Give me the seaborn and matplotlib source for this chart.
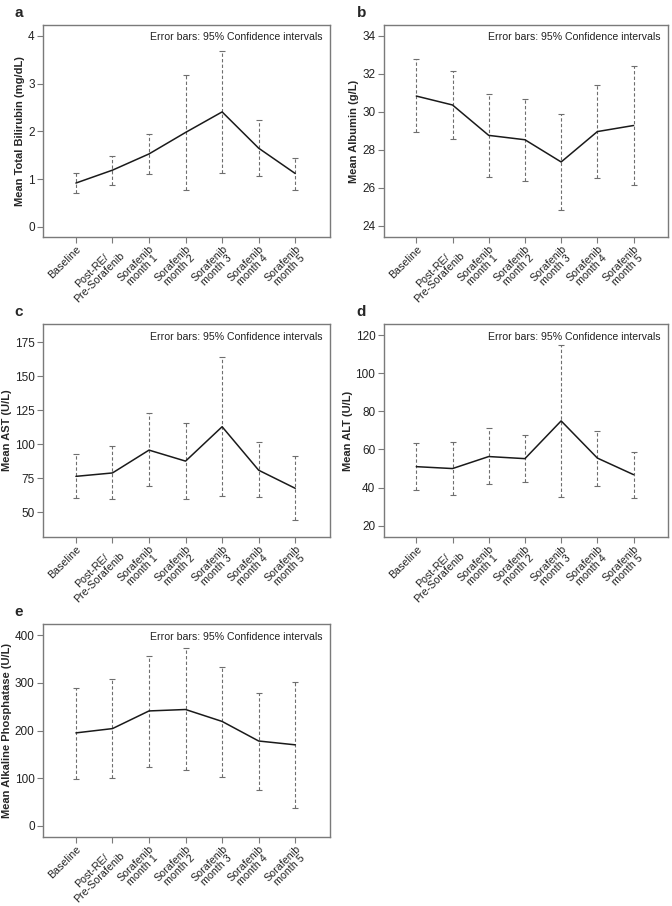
import numpy as np
import pandas as pd
import matplotlib
matplotlib.use('Agg')
import matplotlib.pyplot as plt
import seaborn as sns

# timepoints
timepoints = ['Baseline', 'Post-RE/\nPre-Sorafenib', 'Sorafenib\nmonth 1', 'Sorafenib\nmonth 2',
              'Sorafenib\nmonth 3', 'Sorafenib\nmonth 4', 'Sorafenib\nmonth 5']

# a - total bilirubin (mg/dL)
bili_mean = [0.92, 1.19, 1.53, 1.98, 2.41, 1.65, 1.12]
bili_lo = [0.72, 0.88, 1.11, 0.77, 1.13, 1.07, 0.77]
bili_hi = [1.13, 1.48, 1.95, 3.19, 3.69, 2.24, 1.45]

# b - albumin (g/L)
alb_mean = [30.82, 30.35, 28.75, 28.52, 27.35, 28.95, 29.27]
alb_lo = [28.92, 28.55, 26.58, 26.35, 24.80, 26.50, 26.12]
alb_hi = [32.75, 32.12, 30.92, 30.68, 29.85, 31.40, 32.40]

# c - AST (U/L)
ast_mean = [76.5, 79.0, 95.8, 87.7, 113.0, 81.0, 67.7]
ast_lo = [60.3, 59.7, 69.2, 59.8, 62.4, 61.0, 44.3]
ast_hi = [93.3, 99.1, 122.8, 115.5, 164.5, 101.5, 91.1]

# d - ALT (U/L)
alt_mean = [51.0, 50.0, 56.3, 55.2, 75.0, 55.5, 46.8]
alt_lo = [38.6, 36.3, 41.8, 42.7, 35.0, 40.8, 34.6]
alt_hi = [63.4, 64.0, 71.2, 67.6, 115.0, 69.8, 58.6]

# e - alkaline phosphatase (U/L)
alp_mean = [195, 204, 241, 244, 219, 178, 170]
alp_lo = [99, 100, 124, 117, 103, 76, 38]
alp_hi = [290, 307, 357, 372, 332, 279, 301]

panels = [
    ('a', 'Mean Total Bilirubin (mg/dL)', bili_mean, bili_lo, bili_hi, (-0.21, 4.23), [0, 1, 2, 3, 4]),
    ('b', 'Mean Albumin (g/L)', alb_mean, alb_lo, alb_hi, (23.4, 34.56), [24, 26, 28, 30, 32, 34]),
    ('c', 'Mean AST (U/L)', ast_mean, ast_lo, ast_hi, (31.9, 188.5), [50, 75, 100, 125, 150, 175]),
    ('d', 'Mean ALT (U/L)', alt_mean, alt_lo, alt_hi, (14.1, 125.8), [20, 40, 60, 80, 100, 120]),
    ('e', 'Mean Alkaline Phosphatase (U/L)', alp_mean, alp_lo, alp_hi, (-23, 423), [0, 100, 200, 300, 400]),
]

sns.set_style('ticks')
plt.rcParams['font.family'] = ['Liberation Sans', 'DejaVu Sans']

fig = plt.figure(figsize=(6.72, 9.06), dpi=100)

# axes boxes in figure fraction [left, bottom, width, height]
boxes = [
    [0.064, 0.7384, 0.427, 0.234],
    [0.571, 0.7384, 0.423, 0.234],
    [0.064, 0.4073, 0.427, 0.235],
    [0.571, 0.4073, 0.423, 0.235],
    [0.064, 0.0762, 0.427, 0.235],
]

grey = '#7a7a7a'
for (letter, ylab, mean, lo, hi, ylim, yticks), box in zip(panels, boxes):
    ax = fig.add_axes(box)
    df = pd.DataFrame({'x': np.arange(len(timepoints)), 'mean': mean, 'lo': lo, 'hi': hi})

    eb = ax.errorbar(df['x'], df['mean'],
                     yerr=[df['mean'] - df['lo'], df['hi'] - df['mean']],
                     fmt='none', ecolor='#6e6e6e', elinewidth=0.8, capsize=2.2, capthick=0.8)
    for c in eb[2]:
        c.set_linestyle((0, (3, 2)))
    sns.lineplot(data=df, x='x', y='mean', ax=ax, color='#1a1a1a', linewidth=1.1)

    ax.set_xlim(-0.9, 6.95)
    ax.set_ylim(*ylim)
    ax.set_yticks(yticks)
    ax.set_xticks(df['x'])
    ax.set_xticklabels(timepoints, rotation=45, ha='right', rotation_mode='anchor',
                       fontsize=7.7, linespacing=0.95, multialignment='center')
    ax.tick_params(axis='y', labelsize=8.5, colors='#222222', length=4, width=0.8, pad=2)
    ax.tick_params(axis='x', colors='#222222', length=4, width=0.8, pad=1)
    ax.tick_params(axis='both', color=grey)
    ax.set_xlabel('')
    ax.set_ylabel(ylab, fontsize=8, fontweight='bold', labelpad=2)
    for s in ax.spines.values():
        s.set_visible(True)
        s.set_color(grey)
        s.set_linewidth(1.0)
    ax.text(0.975, 0.965, 'Error bars: 95% Confidence intervals', transform=ax.transAxes,
            ha='right', va='top', fontsize=7.6, color='#222222')
    bb = ax.get_position()
    fig.text(bb.x0 - 0.043 if letter in 'ace' else bb.x0 - 0.04, bb.y1 + 0.006, letter,
             fontsize=11, fontweight='bold', ha='left', va='bottom')

fig.savefig('out.png', dpi=100)
